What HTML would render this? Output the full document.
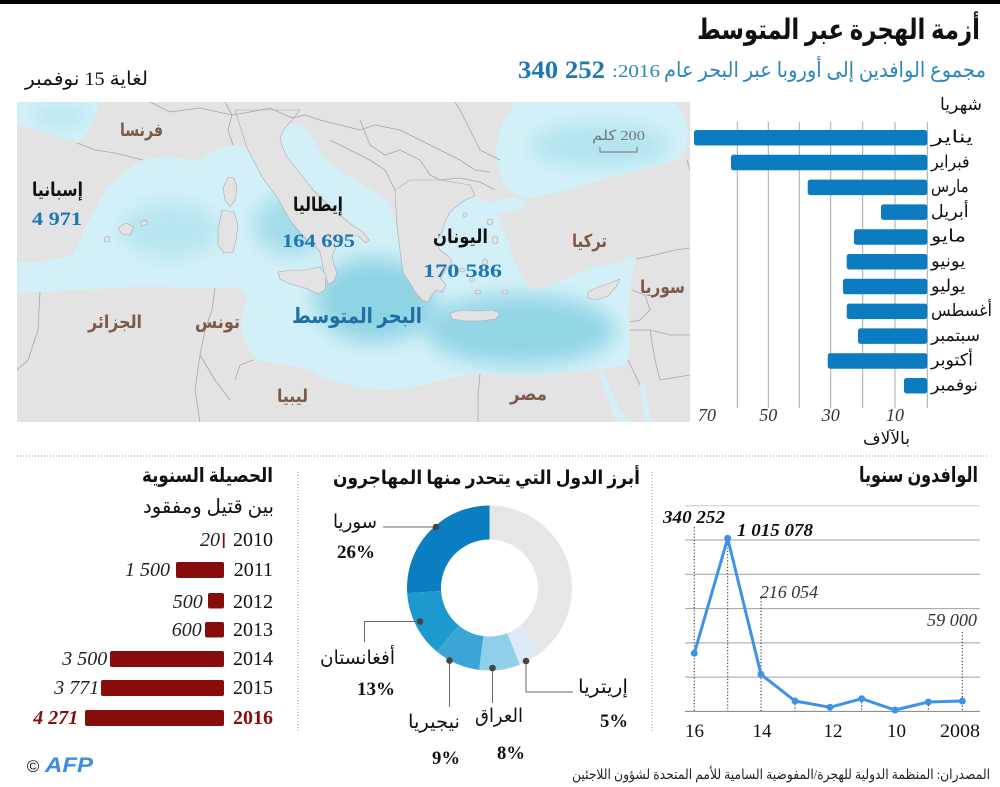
<!DOCTYPE html>
<html><head><meta charset="utf-8">
<style>
html,body{margin:0;padding:0;background:#fff;}
body{width:1000px;height:787px;overflow:hidden;}
svg{display:block;}
</style></head><body>
<svg width="1000" height="787" viewBox="0 0 1000 787" xmlns="http://www.w3.org/2000/svg" font-family="'Liberation Serif','DejaVu Sans',sans-serif">
<defs>
<clipPath id="mc"><rect x="17" y="102" width="673" height="320"/></clipPath>
<path id="sea" d="M17,262 L40,262 L60,258 L73,255 L80,240 L87,223 L95,210 L100,200 L110,185 L125,172 L143,160 L160,157 L173,157 L190,160 L200,160 L212,152 L222,148 L233,145 L247,148 L265,140 L280,130 L290,124 L300,126 L307,130 L315,143 L323,157 L335,167 L343,173 L355,180 L367,187 L378,193 L387,200 L392,213 L397,227 L410,195 L430,195 L440,200 L455,197 L470,193 L483,200 L490,204 L500,199 L515,198 L527,202 L522,210 L505,212 L497,215 L502,225 L508,240 L512,255 L518,268 L525,282 L532,290 L545,287 L560,282 L575,275 L590,268 L605,265 L620,262 L630,256 L636,259 L633,270 L630,290 L628,310 L629,330 L630,347 L626,365 L610,368 L590,370 L570,372 L545,375 L520,376 L495,374 L473,373 L450,378 L420,386 L390,390 L365,389 L345,384 L325,378 L310,370 L300,367 L285,365 L270,363 L257,360 L249,350 L244,338 L241,325 L243,310 L246,298 L242,290 L236,287 L215,288 L190,288 L160,287 L130,287 L100,289 L70,290 L40,292 L17,294 Z M516,102 L675,102 L684,115 L688,130 L686,148 L678,160 L660,166 L640,170 L620,175 L600,180 L580,187 L560,192 L540,196 L527,199 L512,192 L503,182 L497,165 L496,148 L500,130 L507,115 Z M17,102 L100,102 L97,112 L92,124 L85,135 L78,142 L62,138 L45,132 L30,128 L17,126 Z M598,373 L603,373 L612,392 L620,410 L630,422 L616,422 L606,392 Z M640,385 L644,385 L648,405 L652,422 L645,422 Z"/>
<clipPath id="sc"><use href="#sea"/></clipPath>
<filter id="bl" x="-50%" y="-50%" width="200%" height="200%"><feGaussianBlur stdDeviation="10"/></filter>
</defs>

<!-- top bar -->
<rect x="0" y="0" width="1000" height="4" fill="#000"/>

<!-- header -->
<text x="838.5" y="39" text-anchor="middle" direction="rtl" font-size="28" font-weight="bold" fill="#111" textLength="283" lengthAdjust="spacingAndGlyphs">أزمة الهجرة عبر المتوسط</text>
<text x="825" y="77" text-anchor="middle" direction="rtl" font-size="21" fill="#2a86bd" textLength="322" lengthAdjust="spacingAndGlyphs">مجموع الوافدين إلى أوروبا عبر البحر عام</text>
<text x="636" y="77" text-anchor="middle" font-size="18" fill="#2a86bd" textLength="48" lengthAdjust="spacingAndGlyphs">:2016</text>
<text x="561.5" y="78" text-anchor="middle" font-size="25" font-weight="bold" fill="#1f78b4" textLength="87" lengthAdjust="spacingAndGlyphs">340 252</text>
<text x="86.5" y="85" text-anchor="middle" direction="rtl" font-size="19" fill="#111" textLength="123" lengthAdjust="spacingAndGlyphs">لغاية 15 نوفمبر</text>

<!-- MAP -->
<g clip-path="url(#mc)">
<rect x="17" y="102" width="673" height="320" fill="#e3e3e3"/>
<use href="#sea" fill="#d3f0f8"/>
<g clip-path="url(#sc)">
 <g filter="url(#bl)">
  <ellipse cx="290" cy="225" rx="35" ry="30" fill="#a3dcea"/>
  <ellipse cx="375" cy="300" rx="60" ry="42" fill="#8fd4e4"/>
  <ellipse cx="520" cy="330" rx="95" ry="35" fill="#93d6e5"/>
  <ellipse cx="170" cy="230" rx="50" ry="28" fill="#b8e6f1"/>
  <ellipse cx="600" cy="145" rx="70" ry="22" fill="#b2e4ef"/>
  <ellipse cx="60" cy="115" rx="30" ry="10" fill="#b4e4ef"/>
 </g>
</g>
<!-- Italy -->
<path d="M235,110 L247,148 L255,163 L262,177 L270,188 L277,197 L284,210 L290,220 L298,230 L307,240 L315,246 L320,252 L322,262 L324,272 L328,284 L333,282 L337,274 L334,264 L332,256 L336,247 L341,240 L350,236 L358,236 L366,243 L369,240 L363,232 L352,225 L342,217 L332,208 L323,200 L313,190 L303,177 L295,167 L287,157 L282,146 L280,137 L285,128 L292,120 L300,110 Z" fill="#e3e3e3" stroke="#a9a9a9" stroke-width="0.6"/>
<!-- Greece -->
<path d="M395,190 L397,227 L400,250 L403,273 L410,283 L415,292 L422,300 L428,302 L432,295 L436,290 L442,292 L446,285 L440,278 L446,270 L452,262 L447,255 L440,250 L436,242 L442,232 L445,222 L450,212 L458,205 L465,200 L475,196 L470,185 L440,180 L410,180 Z" fill="#e3e3e3" stroke="#a9a9a9" stroke-width="0.6"/>
<!-- islands -->
<g fill="#e3e3e3" stroke="#a9a9a9" stroke-width="0.6">
<path d="M450,313 L462,310 L478,311 L492,310 L500,313 L496,319 L480,321 L465,321 L452,319 Z"/>
<path d="M588,292 L598,287 L610,283 L620,279 L616,287 L608,296 L596,300 L588,298 Z"/>
<path d="M278,272 L292,270 L305,270 L320,267 L326,275 L325,290 L318,294 L305,288 L290,284 L280,279 Z"/>
<path d="M228,177 L234,178 L237,188 L235,200 L230,207 L225,200 L223,188 Z"/>
<path d="M222,210 L234,212 L238,225 L236,240 L233,252 L224,253 L218,245 L218,228 Z"/>
<path d="M118,228 L126,223 L134,227 L130,235 L122,234 Z"/>
<path d="M140,222 L146,220 L148,224 L142,226 Z"/>
<path d="M104,238 L109,236 L110,241 L105,242 Z"/>
<ellipse cx="462" cy="270" rx="3" ry="2"/><ellipse cx="472" cy="280" rx="2.5" ry="2"/>
<ellipse cx="485" cy="262" rx="2.5" ry="3"/><ellipse cx="478" cy="292" rx="3" ry="2"/>
<ellipse cx="495" cy="240" rx="3" ry="4"/><ellipse cx="490" cy="222" rx="3" ry="3"/>
<ellipse cx="465" cy="215" rx="2" ry="2"/><ellipse cx="505" cy="292" rx="3" ry="2"/>
</g>
<!-- borders -->
<g fill="none" stroke="#a6a6a6" stroke-width="0.8">
<path d="M77,143 L95,150 L115,153 L143,160"/>
<path d="M233,145 L228,130 L232,115 L225,102"/>
<path d="M232,115 L250,112 L270,108 L292,118"/>
<path d="M292,118 L305,115 L320,120 L340,125 L360,130 L375,125 L400,130"/>
<path d="M330,140 L350,150 L370,160 L385,170 L395,190"/>
<path d="M360,120 L370,145 L385,155 L400,150 L420,160 L430,175 L440,180"/>
<path d="M400,130 L420,140 L440,150 L460,160 L475,170 L490,172"/>
<path d="M440,180 L460,178 L480,182 L495,190"/>
<path d="M500,160 L480,150 L470,130 L460,110 L455,102"/>
<path d="M150,102 L170,112 L200,108 L232,115"/>
<path d="M40,292 L38,330 L28,360 L17,370"/>
<path d="M215,288 L212,310 L205,330 L200,355 L215,380 L230,400"/>
<path d="M253,360 L240,365 L235,380"/>
<path d="M200,355 L195,390 L200,422"/>
<path d="M480,374 L478,395 L478,422"/>
<path d="M636,259 L655,255 L675,250 L690,248"/>
<path d="M632,290 L645,295 L650,310 L640,320 L630,322"/>
<path d="M630,330 L650,330 L670,335 L690,335"/>
<path d="M650,330 L655,360 L660,380 L690,375"/>
<path d="M628,360 L640,385"/>
<path d="M687,160 L690,170"/>
</g>
<!-- scale bar -->
<text x="618.5" y="140" text-anchor="middle" direction="rtl" font-size="14" fill="#777" textLength="53" lengthAdjust="spacingAndGlyphs">200 كلم</text>
<path d="M600,147 V152 H637 V147" fill="none" stroke="#888" stroke-width="1.2"/>
</g>

<!-- map labels -->
<g font-weight="bold" direction="rtl" text-anchor="middle">
<text x="141.5" y="136" font-size="18" fill="#7b5a48" textLength="43" lengthAdjust="spacingAndGlyphs">فرنسا</text>
<text x="57.5" y="196" font-size="19" fill="#111" textLength="51" lengthAdjust="spacingAndGlyphs">إسبانيا</text>
<text x="318" y="211" font-size="19" fill="#111" textLength="50" lengthAdjust="spacingAndGlyphs">إيطاليا</text>
<text x="460.5" y="243" font-size="19" fill="#111" textLength="55" lengthAdjust="spacingAndGlyphs">اليونان</text>
<text x="589.5" y="247" font-size="18" fill="#7b5a48" textLength="35" lengthAdjust="spacingAndGlyphs">تركيا</text>
<text x="662.5" y="293" font-size="18" fill="#7b5a48" textLength="45" lengthAdjust="spacingAndGlyphs">سوريا</text>
<text x="357" y="323" font-size="21" fill="#1e6fa5" textLength="130" lengthAdjust="spacingAndGlyphs">البحر المتوسط</text>
<text x="115" y="328" font-size="18" fill="#7b5a48" textLength="54" lengthAdjust="spacingAndGlyphs">الجزائر</text>
<text x="217.5" y="328" font-size="18" fill="#7b5a48" textLength="45" lengthAdjust="spacingAndGlyphs">تونس</text>
<text x="292.5" y="402" font-size="18" fill="#7b5a48" textLength="31" lengthAdjust="spacingAndGlyphs">ليبيا</text>
<text x="528.5" y="400" font-size="18" fill="#7b5a48" textLength="37" lengthAdjust="spacingAndGlyphs">مصر</text>
</g>
<g font-weight="bold" text-anchor="middle" fill="#1b77b3" font-size="19">
<text x="57" y="225" textLength="50" lengthAdjust="spacingAndGlyphs">4 971</text>
<text x="318.5" y="247" textLength="73" lengthAdjust="spacingAndGlyphs">164 695</text>
<text x="462.5" y="277" textLength="79" lengthAdjust="spacingAndGlyphs">170 586</text>
</g>

<!-- MONTHLY BAR CHART -->
<text x="961" y="110" text-anchor="middle" direction="rtl" font-size="17" fill="#111" textLength="42" lengthAdjust="spacingAndGlyphs">شهريا</text>
<g stroke="#a8a8a8" stroke-width="1">
<line x1="927.3" y1="122" x2="927.3" y2="408"/>
<line x1="895" y1="122" x2="895" y2="408"/>
<line x1="862.7" y1="122" x2="862.7" y2="408"/>
<line x1="830.7" y1="122" x2="830.7" y2="408"/>
<line x1="799.3" y1="122" x2="799.3" y2="408"/>
<line x1="768.3" y1="122" x2="768.3" y2="408"/>
<line x1="737.3" y1="122" x2="737.3" y2="408"/>
</g>
<g fill="#0b7cbf">
<rect x="694" y="130" width="233.3" height="15.5" rx="2.5"/>
<rect x="731" y="154.8" width="196.3" height="15.5" rx="2.5"/>
<rect x="807.7" y="179.6" width="119.6" height="15.5" rx="2.5"/>
<rect x="881" y="204.4" width="46.3" height="15.5" rx="2.5"/>
<rect x="854" y="229.2" width="73.3" height="15.5" rx="2.5"/>
<rect x="846.7" y="254" width="80.6" height="15.5" rx="2.5"/>
<rect x="843" y="278.8" width="84.3" height="15.5" rx="2.5"/>
<rect x="846.7" y="303.6" width="80.6" height="15.5" rx="2.5"/>
<rect x="858" y="328.4" width="69.3" height="15.5" rx="2.5"/>
<rect x="827.7" y="353.2" width="99.6" height="15.5" rx="2.5"/>
<rect x="904" y="378" width="23.3" height="15.5" rx="2.5"/>
</g>
<g direction="rtl" text-anchor="middle" font-size="17" fill="#111">
<text x="952" y="142.5" textLength="42" lengthAdjust="spacingAndGlyphs">يناير</text>
<text x="950.3" y="167.3" textLength="38.7" lengthAdjust="spacingAndGlyphs">فبراير</text>
<text x="949.8" y="192.1" textLength="37.7" lengthAdjust="spacingAndGlyphs">مارس</text>
<text x="949.8" y="216.9" textLength="37.7" lengthAdjust="spacingAndGlyphs">أبريل</text>
<text x="948.5" y="241.7" textLength="35" lengthAdjust="spacingAndGlyphs">مايو</text>
<text x="948.2" y="266.5" textLength="34.3" lengthAdjust="spacingAndGlyphs">يونيو</text>
<text x="948.2" y="291.3" textLength="34.3" lengthAdjust="spacingAndGlyphs">يوليو</text>
<text x="961.5" y="316.1" textLength="61" lengthAdjust="spacingAndGlyphs">أغسطس</text>
<text x="955.5" y="340.9" textLength="49" lengthAdjust="spacingAndGlyphs">سبتمبر</text>
<text x="952" y="365.7" textLength="42" lengthAdjust="spacingAndGlyphs">أكتوبر</text>
<text x="954.5" y="390.5" textLength="47" lengthAdjust="spacingAndGlyphs">نوفمبر</text>
</g>
<g font-style="italic" font-size="18" fill="#333" text-anchor="middle">
<text x="707" y="421">70</text>
<text x="768.3" y="421">50</text>
<text x="830.7" y="421">30</text>
<text x="895" y="421">10</text>
</g>
<text x="886.5" y="444" text-anchor="middle" direction="rtl" font-size="17" fill="#111" textLength="47" lengthAdjust="spacingAndGlyphs">بالآلاف</text>

<!-- separators -->
<line x1="17" y1="456" x2="987" y2="456" stroke="#9a9a9a" stroke-width="1" stroke-dasharray="1,2"/>
<line x1="298" y1="472" x2="298" y2="732" stroke="#9a9a9a" stroke-width="1" stroke-dasharray="1,2"/>
<line x1="652" y1="472" x2="652" y2="732" stroke="#9a9a9a" stroke-width="1" stroke-dasharray="1,2"/>

<!-- LEFT PANEL: annual toll -->
<text x="207.5" y="482" text-anchor="middle" direction="rtl" font-size="20" font-weight="bold" fill="#111" textLength="131" lengthAdjust="spacingAndGlyphs">الحصيلة السنوية</text>
<text x="208.5" y="513" text-anchor="middle" direction="rtl" font-size="20" fill="#111" textLength="131" lengthAdjust="spacingAndGlyphs">بين قتيل ومفقود</text>
<g fill="#870c0c">
<rect x="222.8" y="533" width="1.8" height="15"/>
<rect x="176" y="562" width="48" height="16" rx="2"/>
<rect x="208" y="593" width="16" height="15.5" rx="2"/>
<rect x="205" y="622" width="19" height="15.5" rx="2"/>
<rect x="110" y="651" width="114" height="16" rx="2"/>
<rect x="101" y="680" width="123" height="16" rx="2"/>
<rect x="85" y="710" width="139" height="16" rx="2"/>
</g>
<g font-size="20" fill="#111" text-anchor="end">
<text x="273" y="546">2010</text>
<text x="273" y="576">2011</text>
<text x="273" y="608">2012</text>
<text x="273" y="636">2013</text>
<text x="273" y="665">2014</text>
<text x="273" y="694">2015</text>
<text x="273" y="724" font-weight="bold" fill="#870c0c">2016</text>
</g>
<g font-size="20" font-style="italic" fill="#222" text-anchor="end">
<text x="220" y="546">20</text>
<text x="170" y="576">1 500</text>
<text x="202.7" y="608">500</text>
<text x="201.7" y="636">600</text>
<text x="107.3" y="665">3 500</text>
<text x="99.3" y="694">3 771</text>
<text x="78.3" y="724" font-weight="bold" fill="#870c0c">4 271</text>
</g>
<!-- AFP -->
<text x="33" y="772" text-anchor="middle" font-family="'Liberation Sans',sans-serif" font-size="17" fill="#111">©</text>
<text x="69" y="772" text-anchor="middle" font-family="'Liberation Sans',sans-serif" font-size="21" font-weight="bold" font-style="italic" fill="#3a8de3" textLength="48" lengthAdjust="spacingAndGlyphs">AFP</text>

<!-- MIDDLE PANEL: donut -->
<text x="486.5" y="484" text-anchor="middle" direction="rtl" font-size="19" font-weight="bold" fill="#111" textLength="307" lengthAdjust="spacingAndGlyphs">أبرز الدول التي يتحدر منها المهاجرون</text>
<path d="M407.16,593.18 A82.5,82.5 0 0 1 489.5,505.5 L489.5,539.5 A48.5,48.5 0 0 0 441.10,591.05 Z" fill="#0a7ec0"/>
<path d="M436.91,651.57 A82.5,82.5 0 0 1 407.16,593.18 L441.10,591.05 A48.5,48.5 0 0 0 458.59,625.37 Z" fill="#1c9ad0"/>
<path d="M479.16,669.85 A82.5,82.5 0 0 1 436.91,651.57 L458.59,625.37 A48.5,48.5 0 0 0 483.42,636.12 Z" fill="#3ba6d6"/>
<path d="M519.87,664.71 A82.5,82.5 0 0 1 479.16,669.85 L483.42,636.12 A48.5,48.5 0 0 0 507.35,633.09 Z" fill="#8fcfea"/>
<path d="M542.09,651.57 A82.5,82.5 0 0 1 519.87,664.71 L507.35,633.09 A48.5,48.5 0 0 0 520.41,625.37 Z" fill="#dceaf8"/>
<path d="M489.5,505.5 A82.5,82.5 0 0 1 542.09,651.57 L520.41,625.37 A48.5,48.5 0 0 0 489.5,539.5 Z" fill="#e6e6e6"/>
<g fill="none" stroke="#666" stroke-width="1">
<path d="M383,527 H436"/>
<path d="M420,621.5 H364.5 V642"/>
<path d="M449.5,660.5 V707"/>
<path d="M492.5,668 V703"/>
<path d="M526,661 V692 H573"/>
</g>
<g fill="#444">
<circle cx="436" cy="527" r="3.3"/>
<circle cx="420" cy="621.5" r="3.3"/>
<circle cx="449.5" cy="660.5" r="3.3"/>
<circle cx="492.5" cy="668" r="3.3"/>
<circle cx="526" cy="661" r="3.3"/>
</g>
<g direction="rtl" text-anchor="middle" font-size="19" fill="#111">
<text x="355" y="528" textLength="44" lengthAdjust="spacingAndGlyphs">سوريا</text>
<text x="357.5" y="664" textLength="75" lengthAdjust="spacingAndGlyphs">أفغانستان</text>
<text x="434" y="728" textLength="52" lengthAdjust="spacingAndGlyphs">نيجيريا</text>
<text x="499" y="722" textLength="48" lengthAdjust="spacingAndGlyphs">العراق</text>
<text x="603" y="693" textLength="50" lengthAdjust="spacingAndGlyphs">إريتريا</text>
</g>
<g text-anchor="middle" font-size="19" font-weight="bold" fill="#111">
<text x="356" y="558" textLength="38" lengthAdjust="spacingAndGlyphs">26%</text>
<text x="376" y="695" textLength="38" lengthAdjust="spacingAndGlyphs">13%</text>
<text x="446" y="764" textLength="28" lengthAdjust="spacingAndGlyphs">9%</text>
<text x="511" y="759" textLength="28" lengthAdjust="spacingAndGlyphs">8%</text>
<text x="614" y="727" textLength="28" lengthAdjust="spacingAndGlyphs">5%</text>
</g>

<!-- RIGHT PANEL: line chart -->
<text x="918.5" y="482" text-anchor="middle" direction="rtl" font-size="21" font-weight="bold" fill="#111" textLength="119" lengthAdjust="spacingAndGlyphs">الوافدون سنويا</text>
<g stroke-width="1">
<line x1="685" y1="505.7" x2="980" y2="505.7" stroke="#c8c8c8"/>
<line x1="685" y1="540" x2="980" y2="540" stroke="#a0a0a0"/>
<line x1="685" y1="574.3" x2="980" y2="574.3" stroke="#a0a0a0"/>
<line x1="685" y1="608.6" x2="980" y2="608.6" stroke="#a0a0a0"/>
<line x1="685" y1="642.9" x2="980" y2="642.9" stroke="#a0a0a0"/>
<line x1="685" y1="677.1" x2="980" y2="677.1" stroke="#a0a0a0"/>
<line x1="685" y1="711.4" x2="980" y2="711.4" stroke="#808080"/>
</g>
<g stroke="#222" stroke-width="1" stroke-dasharray="1.2,2">
<line x1="694.3" y1="527" x2="694.3" y2="711"/>
<line x1="727.7" y1="538" x2="727.7" y2="711"/>
<line x1="761" y1="598" x2="761" y2="711"/>
<line x1="795" y1="701" x2="795" y2="711"/>
<line x1="861.7" y1="699" x2="861.7" y2="711"/>
<line x1="928.3" y1="702" x2="928.3" y2="711"/>
<line x1="962.3" y1="632" x2="962.3" y2="711"/>
</g>
<polyline points="694.3,653.3 727.7,538.3 761,674.4 795,701 830,707.3 861.7,698.7 895,710 928.3,702 962.3,701" fill="none" stroke="#3d93e8" stroke-width="3" stroke-linejoin="round"/>
<g fill="#3d93e8">
<circle cx="694.3" cy="653.3" r="3.5"/><circle cx="727.7" cy="538.3" r="3.5"/>
<circle cx="761" cy="674.4" r="3.5"/><circle cx="795" cy="701" r="3.5"/>
<circle cx="830" cy="707.3" r="3.5"/><circle cx="861.7" cy="698.7" r="3.5"/>
<circle cx="895" cy="710" r="3.5"/><circle cx="928.3" cy="702" r="3.5"/>
<circle cx="962.3" cy="701" r="3.5"/>
</g>
<g text-anchor="middle" font-style="italic" font-size="18" fill="#111">
<text x="694" y="523" font-weight="bold" textLength="62" lengthAdjust="spacingAndGlyphs">340 252</text>
<text x="775" y="536" font-weight="bold" textLength="76" lengthAdjust="spacingAndGlyphs">1 015 078</text>
<text x="789" y="598" fill="#333" textLength="58" lengthAdjust="spacingAndGlyphs">216 054</text>
<text x="952" y="626" fill="#333" textLength="50" lengthAdjust="spacingAndGlyphs">59 000</text>
</g>
<g text-anchor="middle" font-size="19" fill="#111">
<text x="694.5" y="737">16</text>
<text x="762" y="737">14</text>
<text x="833" y="737">12</text>
<text x="896.5" y="737">10</text>
<text x="960" y="737" textLength="40" lengthAdjust="spacingAndGlyphs">2008</text>
</g>

<!-- sources -->
<text x="781" y="779" text-anchor="middle" direction="rtl" font-size="14" fill="#222" textLength="418" lengthAdjust="spacingAndGlyphs">المصدران: المنظمة الدولية للهجرة/المفوضية السامية للأمم المتحدة لشؤون اللاجئين</text>
</svg>
</body></html>
